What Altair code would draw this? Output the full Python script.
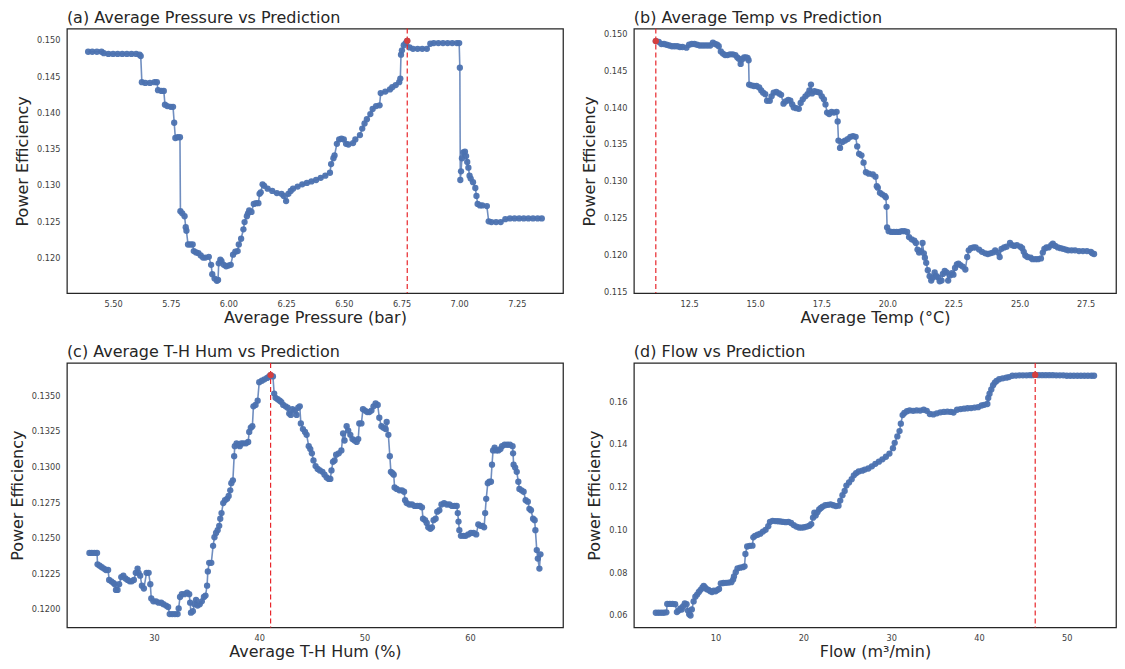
import altair as alt
import pandas as pd

# ---------------- data ----------------
a_x = [5.392, 5.41, 5.43, 5.45, 5.46, 5.48, 5.50, 5.52, 5.54, 5.56, 5.58, 5.60, 5.615, 5.62,
       5.625, 5.64, 5.66, 5.68, 5.69, 5.695, 5.71, 5.72, 5.725, 5.735, 5.75, 5.76, 5.765,
       5.77, 5.78, 5.79, 5.792, 5.80, 5.81, 5.815, 5.818, 5.825, 5.835, 5.845, 5.85, 5.86,
       5.87, 5.88, 5.89, 5.90, 5.915, 5.925, 5.93, 5.94, 5.95, 5.955, 5.958, 5.965, 5.97,
       5.98, 5.99, 6.00, 6.01, 6.02, 6.03, 6.04, 6.045, 6.055, 6.065, 6.07, 6.08, 6.085,
       6.09, 6.10, 6.11, 6.12, 6.13, 6.135, 6.14, 6.148, 6.155, 6.17, 6.19, 6.21, 6.23,
       6.24, 6.25, 6.26, 6.27, 6.28, 6.30, 6.32, 6.34, 6.36, 6.38, 6.40, 6.42, 6.44, 6.445,
       6.455, 6.46, 6.47, 6.48, 6.49, 6.50, 6.51, 6.52, 6.54, 6.55, 6.57, 6.58, 6.59, 6.60,
       6.615, 6.625, 6.64, 6.655, 6.66, 6.68, 6.70, 6.71, 6.725, 6.74, 6.745, 6.748, 6.752,
       6.76, 6.768, 6.775, 6.785, 6.80, 6.82, 6.84, 6.86, 6.875, 6.89, 6.91, 6.93, 6.95,
       6.97, 6.99, 7.00, 7.003, 7.005, 7.008, 7.012, 7.018, 7.025, 7.03, 7.035, 7.04, 7.045,
       7.05, 7.06, 7.07, 7.075, 7.08, 7.09, 7.10, 7.12, 7.128, 7.14, 7.16, 7.18, 7.20, 7.22,
       7.24, 7.26, 7.28, 7.30, 7.32, 7.34, 7.358]
a_y = [0.1485, 0.1485, 0.1485, 0.1485, 0.1483, 0.1482, 0.1482, 0.1482, 0.1482, 0.1482, 0.1482,
       0.1482, 0.1481, 0.1479, 0.1443, 0.1442, 0.1442, 0.1443, 0.1443, 0.1432, 0.1431, 0.1431,
       0.1412, 0.1410, 0.1409, 0.1409, 0.1387, 0.1366, 0.1367, 0.1367, 0.1265, 0.1262, 0.1258,
       0.1243, 0.1238, 0.1219, 0.1219, 0.1219, 0.1210, 0.1208, 0.1207, 0.1204, 0.1201, 0.1201,
       0.1202, 0.1191, 0.1178, 0.1172, 0.1169, 0.1170, 0.1193, 0.1198, 0.1196, 0.1191, 0.1189,
       0.1190, 0.1191, 0.1205, 0.1209, 0.1210, 0.1219, 0.1227, 0.1240, 0.1250, 0.1258, 0.1262,
       0.1266, 0.1264, 0.1275, 0.1276, 0.1276, 0.1289, 0.1291, 0.1302, 0.1300, 0.1296, 0.1293,
       0.1290, 0.1289, 0.1286, 0.1279, 0.1289, 0.1293, 0.1296, 0.1299, 0.1302, 0.1304, 0.1306,
       0.1308, 0.1311, 0.1314, 0.1318, 0.1330, 0.1338, 0.1342, 0.1358, 0.1364, 0.1365, 0.1364,
       0.1358, 0.1357, 0.1359, 0.1364, 0.1370, 0.1379, 0.1386, 0.1392, 0.1399, 0.1406, 0.1410,
       0.1411, 0.1428, 0.1430, 0.1433, 0.1436, 0.1439, 0.1443, 0.1448, 0.1481, 0.1487, 0.1494,
       0.1497, 0.1500, 0.1491, 0.1489, 0.1489, 0.1489, 0.1489, 0.1496, 0.1497, 0.1497, 0.1497,
       0.1497, 0.1497, 0.1497, 0.1497, 0.1463, 0.1308, 0.1320, 0.1338, 0.1346, 0.1347, 0.1341,
       0.1333, 0.1325, 0.1314, 0.1310, 0.1305, 0.1297, 0.1286, 0.1275, 0.1273, 0.1273, 0.1272,
       0.1251, 0.1250, 0.1250, 0.1250, 0.1254, 0.1255, 0.1255, 0.1255, 0.1255, 0.1255, 0.1255,
       0.1255, 0.1255]

b_x = [11.24, 11.35, 11.45, 11.55, 11.65, 11.75, 11.85, 11.95, 12.05, 12.15, 12.25, 12.40,
       12.50, 12.60, 12.70, 12.80, 12.90, 13.00, 13.10, 13.20, 13.30, 13.40, 13.48, 13.56,
       13.62, 13.70, 13.78, 13.86, 13.95, 14.05, 14.15, 14.25, 14.32, 14.38, 14.45, 14.50,
       14.58, 14.65, 14.71, 14.75, 14.77, 14.85, 14.95, 15.05, 15.15, 15.23, 15.30, 15.38,
       15.45, 15.55, 15.62, 15.70, 15.80, 15.90, 15.98, 16.07, 16.15, 16.25, 16.33, 16.40,
       16.46, 16.55, 16.65, 16.72, 16.80, 16.90, 16.98, 17.05, 17.11, 17.15, 17.24, 17.34,
       17.44, 17.52, 17.60, 17.66, 17.72, 17.80, 17.89, 17.98, 18.08, 18.12, 18.15, 18.21,
       18.30, 18.40, 18.50, 18.60, 18.70, 18.80, 18.86, 18.93, 19.02, 19.10, 19.19, 19.30,
       19.45, 19.55, 19.60, 19.64, 19.72, 19.80, 19.90, 19.94, 19.97, 19.99, 20.05, 20.15,
       20.25, 20.35, 20.45, 20.55, 20.65, 20.75, 20.82, 20.92, 21.02, 21.08, 21.14, 21.20,
       21.27, 21.33, 21.38, 21.42, 21.47, 21.53, 21.60, 21.66, 21.72, 21.79, 21.86, 21.92,
       21.98, 22.05, 22.10, 22.17, 22.24, 22.30, 22.37, 22.44, 22.50, 22.56, 22.63, 22.69,
       22.76, 22.85, 22.95, 23.02, 23.08, 23.16, 23.26, 23.34, 23.47, 23.58, 23.70, 23.80,
       23.90, 23.99, 24.08, 24.18, 24.25, 24.32, 24.42, 24.51, 24.64, 24.72, 24.80, 24.90,
       25.03, 25.10, 25.16, 25.22, 25.30, 25.42, 25.49, 25.60, 25.70, 25.81, 25.88, 25.94,
       26.02, 26.10, 26.20, 26.26, 26.35, 26.45, 26.55, 26.65, 26.75, 26.84, 26.97, 27.10,
       27.25, 27.40, 27.55, 27.70, 27.75, 27.82]
b_y = [0.1491, 0.1490, 0.1487, 0.1487, 0.1486, 0.1485, 0.1484, 0.1484, 0.1484, 0.1483, 0.1483,
       0.1482, 0.1486, 0.1487, 0.1487, 0.1486, 0.1485, 0.1485, 0.1485, 0.1485, 0.1485, 0.1489,
       0.1487, 0.1486, 0.1484, 0.1477, 0.1474, 0.1472, 0.1472, 0.1473, 0.1473, 0.1472, 0.1469,
       0.1467, 0.1460, 0.1466, 0.1469, 0.1469, 0.1468, 0.1465, 0.1432, 0.1431, 0.1430, 0.1430,
       0.1428, 0.1424, 0.1421, 0.1419, 0.1410, 0.1410, 0.1416, 0.1421, 0.1422, 0.1420, 0.1418,
       0.1406, 0.1409, 0.1411, 0.1410, 0.1405, 0.1401, 0.1400, 0.1399, 0.1407, 0.1412, 0.1416,
       0.1419, 0.1424, 0.1432, 0.1420, 0.1423, 0.1422, 0.1421, 0.1416, 0.1412, 0.1405, 0.1394,
       0.1392, 0.1395, 0.1394, 0.1395, 0.1382, 0.1356, 0.1346, 0.1354, 0.1356, 0.1358, 0.1361,
       0.1362, 0.1361, 0.1348, 0.1338, 0.1336, 0.1326, 0.1313, 0.1311, 0.1310, 0.1307, 0.1294,
       0.1292, 0.1285, 0.1283, 0.1281, 0.1279, 0.1266, 0.1238, 0.1233, 0.1232, 0.1232, 0.1232,
       0.1232, 0.1233, 0.1233, 0.1232, 0.1225, 0.1222, 0.1220, 0.1217, 0.1208, 0.1204, 0.1206,
       0.1217, 0.1203, 0.1197, 0.1190, 0.1180, 0.1172, 0.1166, 0.1170, 0.1177, 0.1172, 0.1170,
       0.1165, 0.1166, 0.1175, 0.1179, 0.1177, 0.1166, 0.1173, 0.1176, 0.1174, 0.1183, 0.1188,
       0.1189, 0.1187, 0.1185, 0.1181, 0.1198, 0.1207, 0.1210, 0.1211, 0.1211, 0.1208, 0.1205,
       0.1203, 0.1202, 0.1203, 0.1204, 0.1207, 0.1204, 0.1198, 0.1209, 0.1211, 0.1212, 0.1217,
       0.1214, 0.1213, 0.1214, 0.1212, 0.1210, 0.1205, 0.1200, 0.1198, 0.1197, 0.1195, 0.1195,
       0.1195, 0.1196, 0.1204, 0.1209, 0.1211, 0.1211, 0.1214, 0.1216, 0.1213, 0.1211, 0.1210,
       0.1209, 0.1208, 0.1207, 0.1207, 0.1207, 0.1206, 0.1206, 0.1206, 0.1205, 0.1203, 0.1202]

c_x = [23.88, 24.10, 24.35, 24.60, 24.65, 24.85, 25.05, 25.25, 25.45, 25.65, 25.75, 25.95,
       26.15, 26.28, 26.40, 26.55, 26.70, 26.90, 27.10, 27.30, 27.50, 27.70, 27.90, 28.10,
       28.28, 28.45, 28.55, 28.70, 28.86, 29.05, 29.30, 29.50, 29.66, 29.75, 29.95, 30.20,
       30.45, 30.70, 30.90, 31.15, 31.35, 31.50, 31.75, 32.00, 32.25, 32.35, 32.48, 32.65,
       32.90, 33.15, 33.35, 33.44, 33.52, 33.70, 33.85, 34.00, 34.15, 34.35, 34.55, 34.75,
       34.90, 35.05, 35.12, 35.25, 35.45, 35.62, 35.75, 35.90, 36.05, 36.20, 36.30, 36.42,
       36.58, 36.75, 36.95, 37.10, 37.25, 37.35, 37.50, 37.62, 37.68, 37.85, 38.00, 38.15,
       38.30, 38.50, 38.75, 38.95, 39.05, 39.20, 39.35, 39.45, 39.65, 39.85, 40.00, 40.25,
       40.50, 40.75, 40.95, 41.08, 41.30, 41.42, 41.55, 41.75, 41.95, 42.10, 42.28, 42.50,
       42.70, 42.85, 43.00, 43.15, 43.35, 43.55, 43.70, 43.85, 43.95, 44.15, 44.35, 44.50,
       44.70, 44.85, 45.00, 45.15, 45.35, 45.55, 45.75, 46.00, 46.20, 46.40, 46.60, 46.75,
       46.86, 47.00, 47.15, 47.30, 47.55, 47.80, 47.96, 48.10, 48.30, 48.45, 48.65, 48.85,
       49.05, 49.25, 49.40, 49.50, 49.70, 49.85, 50.05, 50.25, 50.45, 50.65, 50.85, 51.05,
       51.25, 51.40, 51.60, 51.80, 52.00, 52.10, 52.26, 52.40, 52.50, 52.65, 52.77, 52.85,
       53.05, 53.30, 53.55, 53.75, 53.85, 54.00, 54.25, 54.50, 54.75, 55.00, 55.25, 55.45,
       55.55, 55.75, 55.90, 56.05, 56.25, 56.40, 56.55, 56.75, 56.90, 57.10, 57.30, 57.55,
       57.80, 58.05, 58.30, 58.55, 58.75, 58.85, 58.92, 59.00, 59.15, 59.40, 59.60, 59.85,
       60.10, 60.35, 60.60, 60.80, 61.00, 61.20, 61.35, 61.45, 61.55, 61.70, 61.85, 62.00,
       62.10, 62.20, 62.35, 62.50, 62.70, 62.90, 63.05, 63.30, 63.55, 63.80, 64.05, 64.10,
       64.15, 64.30, 64.45, 64.60, 64.70, 64.90, 65.10, 65.30, 65.50, 65.65, 65.80, 66.00,
       66.15, 66.22, 66.35, 66.45, 66.60, 66.70]
c_y = [0.1240, 0.1240, 0.1240, 0.1240, 0.1232, 0.1231, 0.1230, 0.1229, 0.1228, 0.1228, 0.1221,
       0.1220, 0.1219, 0.1218, 0.1214, 0.1214, 0.1218, 0.1223, 0.1224, 0.1222, 0.1221, 0.1220,
       0.1220, 0.1221, 0.1226, 0.1229, 0.1226, 0.1224, 0.1217, 0.1215, 0.1226, 0.1226, 0.1218,
       0.1208, 0.1206, 0.1206, 0.1205, 0.1205, 0.1204, 0.1203, 0.1202, 0.1197, 0.1197, 0.1197,
       0.1197, 0.1201, 0.1209, 0.1211, 0.1211, 0.1212, 0.1211, 0.1205, 0.1198, 0.1199, 0.1204,
       0.1207, 0.1203, 0.1204, 0.1206, 0.1209, 0.1210, 0.1217, 0.1227, 0.1233, 0.1233, 0.1245,
       0.1251, 0.1254, 0.1256, 0.1259, 0.1264, 0.1268, 0.1275, 0.1277, 0.1278, 0.1280, 0.1284,
       0.1289, 0.1291, 0.1308, 0.1315, 0.1317, 0.1316, 0.1315, 0.1317, 0.1317, 0.1317, 0.1318,
       0.1325, 0.1328, 0.1329, 0.1343, 0.1344, 0.1347, 0.1360, 0.1361, 0.1362, 0.1363, 0.1364,
       0.1365, 0.1364, 0.1352, 0.1349, 0.1348, 0.1347, 0.1346, 0.1344, 0.1343, 0.1342, 0.1338,
       0.1337, 0.1341, 0.1340, 0.1337, 0.1342, 0.1343, 0.1331, 0.1327, 0.1325, 0.1323, 0.1315,
       0.1313, 0.1310, 0.1305, 0.1301, 0.1299, 0.1298, 0.1297, 0.1295, 0.1293, 0.1292, 0.1292,
       0.1298, 0.1304, 0.1305, 0.1309, 0.1310, 0.1312, 0.1324, 0.1319, 0.1329, 0.1326, 0.1323,
       0.1320, 0.1319, 0.1318, 0.1320, 0.1331, 0.1331, 0.1341, 0.1340, 0.1339, 0.1339, 0.1340,
       0.1343, 0.1345, 0.1344, 0.1335, 0.1329, 0.1328, 0.1327, 0.1332, 0.1323, 0.1308, 0.1297,
       0.1296, 0.1295, 0.1286, 0.1285, 0.1284, 0.1284, 0.1283, 0.1277, 0.1275, 0.1274, 0.1274,
       0.1273, 0.1273, 0.1273, 0.1272, 0.1264, 0.1263, 0.1261, 0.1258, 0.1257, 0.1258, 0.1263,
       0.1264, 0.1269, 0.1270, 0.1274, 0.1275, 0.1274, 0.1274, 0.1273, 0.1273, 0.1273, 0.1268,
       0.1262, 0.1256, 0.1252, 0.1252, 0.1252, 0.1253, 0.1254, 0.1254, 0.1253, 0.1260, 0.1259,
       0.1259, 0.1258, 0.1268, 0.1278, 0.1289, 0.1290, 0.1290, 0.1302, 0.1312, 0.1314, 0.1312,
       0.1312, 0.1313, 0.1315, 0.1316, 0.1316, 0.1316, 0.1315, 0.1310, 0.1302, 0.1300, 0.1297,
       0.1290, 0.1285, 0.1284, 0.1283, 0.1277, 0.1276, 0.1271, 0.1270, 0.1264, 0.1263, 0.1256,
       0.1242, 0.1236, 0.1229, 0.1239]

d_x = [3.2, 3.5, 3.8, 4.1, 4.4, 4.5, 4.8, 5.1, 5.4, 5.6, 5.8, 6.0, 6.15, 6.3, 6.5, 6.7, 6.85,
       7.0, 7.15, 7.3, 7.5, 7.7, 7.9, 8.1, 8.3, 8.5, 8.65, 8.8, 9.0, 9.2, 9.4, 9.6, 9.8, 10.0,
       10.2, 10.4, 10.6, 10.9, 11.2, 11.5, 11.8, 12.0, 12.1, 12.3, 12.5, 12.8, 13.1, 13.3,
       13.4, 13.6, 13.9, 14.2, 14.3, 14.5, 14.8, 15.1, 15.4, 15.7, 16.0, 16.2, 16.5, 16.8,
       17.1, 17.4, 17.7, 18.0, 18.3, 18.6, 18.9, 19.2, 19.5, 19.8, 20.1, 20.4, 20.7, 20.9,
       21.1, 21.25, 21.4, 21.6, 21.8, 22.0, 22.2, 22.5, 22.8, 23.1, 23.4, 23.7, 24.0, 24.2,
       24.45, 24.7, 24.9, 25.2, 25.5, 25.75, 26.0, 26.3, 26.7, 27.0, 27.4, 27.8, 28.2, 28.6,
       29.0, 29.4, 29.8, 30.2, 30.4, 30.7, 30.95, 31.1, 31.3, 31.5, 31.8, 32.1, 32.5, 32.9,
       33.3, 33.7, 34.05, 34.4, 34.8, 35.2, 35.6, 36.0, 36.4, 36.8, 37.1, 37.5, 37.9, 38.3,
       38.7, 39.1, 39.5, 39.9, 40.3, 40.6, 40.95, 41.05, 41.2, 41.4, 41.6, 41.8, 42.0, 42.3,
       42.7, 43.1, 43.4, 43.8, 44.2, 44.6, 45.0, 45.4, 45.8, 46.1, 46.4, 46.8, 47.2, 47.6,
       48.0, 48.4, 48.8, 49.2, 49.6, 50.0, 50.4, 50.8, 51.2, 51.6, 52.0, 52.4, 52.8, 53.1]
d_y = [0.0615, 0.0615, 0.0615, 0.0615, 0.0617, 0.0656, 0.0656, 0.0656, 0.0655, 0.0618, 0.0625,
       0.0635, 0.0630, 0.0645, 0.0659, 0.0655, 0.0625, 0.0608, 0.0602, 0.0630, 0.0668, 0.0690,
       0.0700, 0.0712, 0.0722, 0.0732, 0.0740, 0.0733, 0.0725, 0.0722, 0.0716, 0.0712, 0.0718,
       0.0715, 0.0721, 0.0726, 0.0752, 0.0754, 0.0755, 0.0756, 0.0758, 0.0770, 0.0785, 0.0805,
       0.0822, 0.0826, 0.0828, 0.0832, 0.0890, 0.0925, 0.0928, 0.0929, 0.0968, 0.0975, 0.0980,
       0.0985, 0.0995, 0.1003, 0.1020, 0.1040, 0.1045, 0.1044, 0.1043, 0.1042, 0.1040, 0.1039,
       0.1040, 0.1035, 0.1025, 0.1018, 0.1014, 0.1013, 0.1015, 0.1018, 0.1022, 0.1030, 0.1060,
       0.1083, 0.1070, 0.1085, 0.1098, 0.1105, 0.1112, 0.1118, 0.1120, 0.1122, 0.1118, 0.1114,
       0.1116, 0.1140, 0.1165, 0.1185, 0.1210, 0.1225, 0.1240, 0.1258, 0.1268, 0.1276, 0.1280,
       0.1285, 0.1290, 0.1300, 0.1312, 0.1322, 0.1333, 0.1345, 0.1360, 0.1385, 0.1410, 0.1440,
       0.1465, 0.1500, 0.1540, 0.1550, 0.1558, 0.1562, 0.1560, 0.1562, 0.1561, 0.1565, 0.1560,
       0.1545, 0.1543, 0.1548, 0.1553, 0.1555, 0.1556, 0.1555, 0.1552, 0.1565, 0.1568, 0.1570,
       0.1572, 0.1573, 0.1575, 0.1577, 0.1585, 0.1588, 0.1592, 0.1620, 0.1640, 0.1660, 0.1680,
       0.1692, 0.1700, 0.1708, 0.1712, 0.1715, 0.1718, 0.1724, 0.1725, 0.1726, 0.1726, 0.1726,
       0.1727, 0.1727, 0.1728, 0.1727, 0.1727, 0.1727, 0.1727, 0.1727, 0.1726, 0.1726, 0.1726,
       0.1724, 0.1724, 0.1724, 0.1724, 0.1724, 0.1724, 0.1724, 0.1724, 0.1724]

titles = ["(a) Average Pressure vs Prediction", "(b) Average Temp vs Prediction",
          "(c) Average T-H Hum vs Prediction", "(d) Flow vs Prediction"]
x_titles = ["Average Pressure (bar)", "Average Temp (°C)", "Average T-H Hum (%)", "Flow (m³/min)"]
x_domains = [[5.30, 7.45], [10.41, 28.65], [21.74, 68.84], [0.7, 55.6]]
y_domains = [[0.1152, 0.1517], [0.1149, 0.1508], [0.11876, 0.13735], [0.0546, 0.1784]]
x_ticks = [[5.50, 5.75, 6.00, 6.25, 6.50, 6.75, 7.00, 7.25],
           [12.5, 15.0, 17.5, 20.0, 22.5, 25.0, 27.5],
           [30, 40, 50, 60],
           [10, 20, 30, 40, 50]]
y_ticks = [[0.120, 0.125, 0.130, 0.135, 0.140, 0.145, 0.150],
           [0.115, 0.120, 0.125, 0.130, 0.135, 0.140, 0.145, 0.150],
           [0.1200, 0.1225, 0.1250, 0.1275, 0.1300, 0.1325, 0.1350],
           [0.06, 0.08, 0.10, 0.12, 0.14, 0.16]]
x_formats = [".2f", ".1f", "d", "d"]
y_formats = [".3f", ".3f", ".4f", ".2f"]
widths = [497, 483, 497, 483]

FONT = "DejaVu Sans"
BLUE = "#4c72b0"
RED = "#e8262b"
DARK = "#262626"


def panel(xs, ys, i):
    df = pd.DataFrame({"x": xs, "y": ys})
    k = max(range(len(ys)), key=lambda j: ys[j])
    peak = pd.DataFrame({"x": [xs[k]], "y": [ys[k]]})
    xenc = alt.X("x:Q", scale=alt.Scale(domain=x_domains[i], nice=False, zero=False),
                 axis=alt.Axis(values=x_ticks[i], tickCount=len(x_ticks[i]),
                               format=x_formats[i], title=x_titles[i]))
    yenc = alt.Y("y:Q", scale=alt.Scale(domain=y_domains[i], nice=False, zero=False),
                 axis=alt.Axis(values=y_ticks[i], tickCount=len(y_ticks[i]),
                               format=y_formats[i], title="Power Efficiency"))
    base = alt.Chart(df).encode(x=xenc, y=yenc)
    line = base.mark_line(color=BLUE, strokeWidth=1.6, opacity=0.8)
    pts = base.mark_circle(color=BLUE, size=40, opacity=0.95)
    rule = alt.Chart(peak).mark_rule(color=RED, strokeWidth=1.2, strokeDash=[5, 3]).encode(x="x:Q")
    top = alt.Chart(peak).mark_circle(color="#d43f3f", size=40, opacity=1).encode(x="x:Q", y="y:Q")
    return alt.layer(line, pts, rule, top).properties(
        width=widths[i], height=265,
        title=alt.TitleParams(titles[i], anchor="start", frame="group", fontSize=16, font=FONT,
                              fontWeight="normal", color=DARK, offset=2))


charts = [panel(a_x, a_y, 0), panel(b_x, b_y, 1), panel(c_x, c_y, 2), panel(d_x, d_y, 3)]

chart = alt.concat(*charts, columns=2, spacing={"row": 17, "column": 16}, align="each").properties(
    padding={"left": 0, "top": 0, "right": 0, "bottom": 0}
).configure_view(
    stroke=DARK, strokeWidth=1.25
).configure_axis(
    grid=False, domain=False, ticks=False, labelOverlap=False,
    labelFont=FONT, labelFontSize=8.2, labelColor="#3d3d3d",
    titleFont=FONT, titleFontSize=16, titleColor=DARK, titleFontWeight="normal",
).configure_axisX(titlePadding=2, labelPadding=7).configure_axisY(titlePadding=6, labelPadding=7)

chart.save("out.html", embed_options={"renderer": "svg", "actions": False})
